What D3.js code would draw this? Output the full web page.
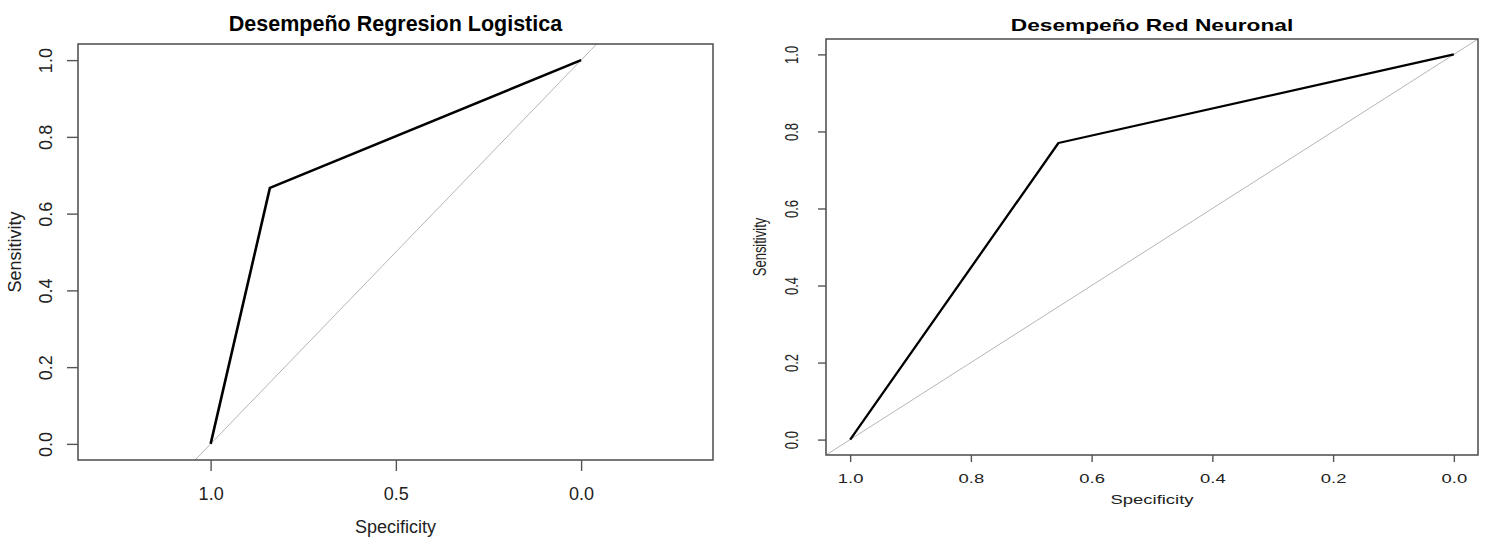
<!DOCTYPE html>
<html>
<head>
<meta charset="utf-8">
<script src="https://cdn.jsdelivr.net/npm/d3@7"></script>
<style>
  html, body { margin: 0; padding: 0; background: #fff; }
  svg { display: block; }
  text { font-family: "Liberation Sans", Arial, Helvetica, sans-serif; fill: #222; }
</style>
</head>
<body>
<svg id="chart" width="1485" height="538"></svg>
<script>
// ---- data ----
const lrTitle = "Desempeño Regresion Logistica";
const nnTitle = "Desempeño Red Neuronal";
const xLabel = "Specificity";
const yLabel = "Sensitivity";

const lrSpecificity = [1.0, 0.84, 0.0];
const lrSensitivity = [0.0, 0.667, 1.0];

const nnSpecificity = [1.0, 0.655, 0.0];
const nnSensitivity = [0.0, 0.77, 1.0];

const lrXTicks = [1.0, 0.5, 0.0];
const nnXTicks = [1.0, 0.8, 0.6, 0.4, 0.2, 0.0];
const yTicks = [0.0, 0.2, 0.4, 0.6, 0.8, 1.0];

// chance line: sensitivity = 1 - specificity
const chanceIntercept = 1;
const chanceSlope = -1;

// ---- panels ----
const svg = d3.select("#chart");

const panels = [
  {
    id: "lr", title: lrTitle, spec: lrSpecificity, sens: lrSensitivity, xTicks: lrXTicks,
    box: {l: 78, r: 713, t: 44, b: 460},
    xDomain: [1.358, -0.356], yDomain: [-0.042, 1.042],
    sx: 1, titleSize: 21.5, fontSize: 18,
    titleY: 31, xTickLen: 11, xTickLabelY: 500, xLabelY: 533,
    yTickLen: 11, yTickLabelX: 46, yLabelX: 15,
    rocWidth: 2.6
  },
  {
    id: "nn", title: nnTitle, spec: nnSpecificity, sens: nnSensitivity, xTicks: nnXTicks,
    box: {l: 826, r: 1478, t: 39, b: 455},
    xDomain: [1.04, -0.04], yDomain: [-0.04, 1.04],
    sx: 1.42, titleSize: 16, fontSize: 13,
    titleY: 31, xTickLen: 7, xTickLabelY: 483, xLabelY: 504,
    yTickLen: 8, yTickLabelX: 792, yLabelX: 760,
    rocWidth: 2.3
  }
];

panels.forEach(p => {
  const x = d3.scaleLinear().domain(p.xDomain).range([p.box.l, p.box.r]);
  const y = d3.scaleLinear().domain(p.yDomain).range([p.box.b, p.box.t]);
  const g = svg.append("g").attr("class", "panel-" + p.id);
  const cx = (p.box.l + p.box.r) / 2;
  const cy = (p.box.t + p.box.b) / 2;

  g.append("clipPath").attr("id", "clip-" + p.id)
    .append("rect")
    .attr("x", p.box.l).attr("y", p.box.t)
    .attr("width", p.box.r - p.box.l).attr("height", p.box.b - p.box.t);

  // chance diagonal
  const dx = p.xDomain;
  const chance = dx.map(v => [v, chanceIntercept + chanceSlope * v]);
  g.append("path")
    .attr("clip-path", "url(#clip-" + p.id + ")")
    .attr("d", d3.line().x(d => x(d[0])).y(d => y(d[1]))(chance))
    .attr("fill", "none").attr("stroke", "#b5b5b5").attr("stroke-width", 1);

  // ROC curve
  const pts = p.spec.map((s, i) => [s, p.sens[i]]);
  g.append("path")
    .attr("d", d3.line().x(d => x(d[0])).y(d => y(d[1]))(pts))
    .attr("fill", "none").attr("stroke", "#000").attr("stroke-width", p.rocWidth)
    .attr("stroke-linejoin", "round");

  // box
  g.append("rect")
    .attr("x", p.box.l).attr("y", p.box.t)
    .attr("width", p.box.r - p.box.l).attr("height", p.box.b - p.box.t)
    .attr("fill", "none").attr("stroke", "#555").attr("stroke-width", 1.6);

  // x axis
  const xa = g.append("g").attr("transform", `translate(0,${p.box.b})`)
    .call(d3.axisBottom(x).tickValues(p.xTicks).tickSize(p.xTickLen).tickFormat(d3.format(".1f")));
  xa.select(".domain").remove();
  xa.selectAll(".tick line").attr("stroke", "#555").attr("stroke-width", 1.4);
  xa.selectAll(".tick text")
    .attr("y", 0).attr("dy", 0)
    .attr("transform", `translate(0,${p.xTickLabelY - p.box.b}) scale(${p.sx},1)`)
    .attr("font-size", p.fontSize).attr("font-family", null).style("fill", "#222");

  // y axis
  const ya = g.append("g").attr("transform", `translate(${p.box.l},0)`)
    .call(d3.axisLeft(y).tickValues(yTicks).tickSize(p.yTickLen).tickFormat(d3.format(".1f")));
  ya.select(".domain").remove();
  ya.selectAll(".tick line").attr("stroke", "#555").attr("stroke-width", 1.4);
  ya.selectAll(".tick text")
    .attr("x", 0).attr("dy", "0.35em")
    .attr("text-anchor", "middle")
    .attr("transform", `translate(${p.yTickLabelX - p.box.l},0) scale(${p.sx},1) rotate(-90)`)
    .attr("font-size", p.fontSize).attr("font-family", null).style("fill", "#222");

  // title
  g.append("text")
    .attr("transform", `translate(${cx},${p.titleY}) scale(${p.sx},1)`)
    .attr("text-anchor", "middle").attr("font-weight", "bold")
    .attr("font-size", p.titleSize).style("fill", "#000")
    .text(p.title);

  // axis labels
  g.append("text")
    .attr("transform", `translate(${cx},${p.xLabelY}) scale(${p.sx},1)`)
    .attr("text-anchor", "middle").attr("font-size", p.fontSize)
    .text(xLabel);
  g.append("text")
    .attr("transform", `translate(${p.yLabelX},${cy}) scale(${p.sx},1) rotate(-90)`)
    .attr("text-anchor", "middle").attr("dy", "0.35em").attr("font-size", p.fontSize)
    .text(yLabel);
});
</script>
</body>
</html>
